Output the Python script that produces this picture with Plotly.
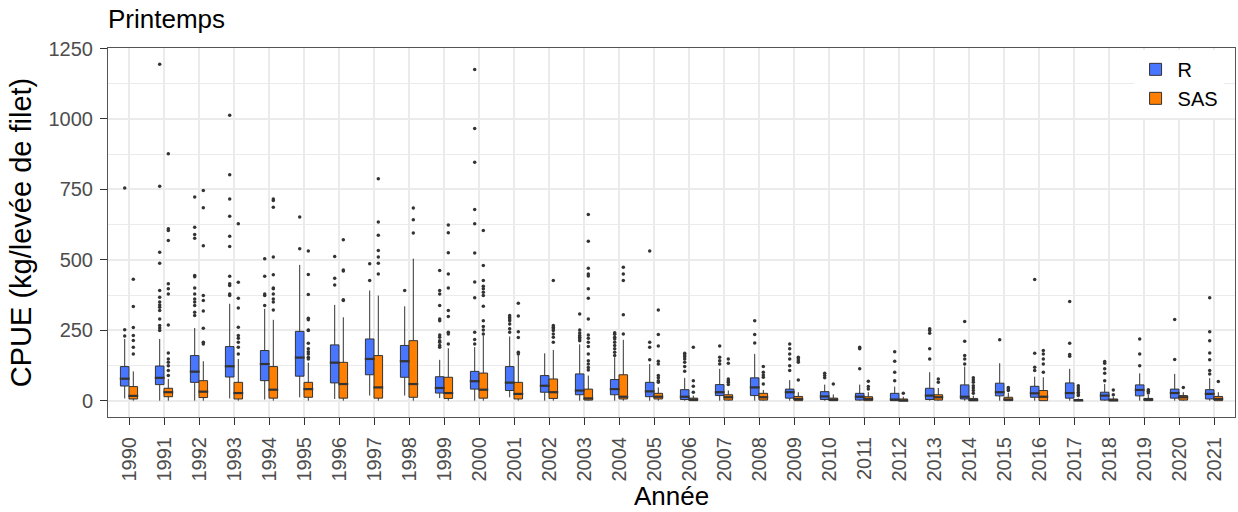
import plotly.graph_objects as go

years = list(range(1990, 2022))

# R series: box statistics
r_q1 = [52, 57, 65, 84, 71, 87, 63, 92, 83, 27, 41, 36, 30, 21, 21, 14, 4, 18, 18, 9, 4, 2, 0, 4, 6, 17, 12, 9, 2, 17, 9, 6]
r_med = [78, 81, 103, 122, 130, 153, 135, 148, 140, 45, 69, 64, 53, 36, 41, 33, 14, 30, 47, 30, 15, 14, 4, 18, 14, 30, 26, 27, 18, 38, 27, 24]
r_q3 = [121, 123, 160, 192, 178, 246, 198, 219, 196, 85, 104, 121, 89, 95, 75, 65, 39, 57, 81, 41, 32, 26, 26, 44, 56, 62, 51, 63, 30, 56, 41, 39]
r_lo = [8, 0, 0, 8, 4, 12, 6, 18, 18, 9, 0, 12, 0, 0, 0, 0, 0, 0, 0, 0, 0, 0, 0, 0, 0, 0, 0, 0, 0, 0, 0, 0]
r_hi = [219, 219, 258, 344, 326, 482, 340, 391, 335, 145, 190, 228, 168, 200, 154, 130, 81, 113, 166, 73, 57, 57, 50, 101, 121, 133, 85, 113, 59, 97, 95, 80]
r_out = [
    [252, 230, 755],
    [1194, 761, 527, 488, 391, 367, 350, 340, 332, 320, 290, 267, 258, 249],
    [723, 616, 590, 577, 444, 440, 400, 379, 361, 350, 338, 314, 302],
    [1013, 802, 716, 655, 584, 547, 442, 415, 409, 379, 373],
    [504, 442, 379, 373, 338],
    [652, 539],
    [512, 435, 411],
    [486, 427],
    [391],
    [462, 391, 379, 338, 290, 284, 233, 225, 213, 207, 196, 190],
    [1176, 966, 846, 679, 628, 524, 421, 365, 243, 217, 201],
    [302, 296, 290, 284, 272, 255, 243],
    [],
    [308, 251, 240, 231, 225, 219, 213],
    [241, 236, 225, 219, 207, 196, 184, 172, 160],
    [531, 207, 190, 145],
    [168, 162, 156, 148, 136, 121, 104],
    [194, 154, 142, 130],
    [284, 235, 205],
    [201, 184, 166, 148, 124, 107],
    [97, 89, 81],
    [190, 184, 113],
    [174, 140, 101, 71],
    [255, 249, 239, 184, 148],
    [281, 211, 160, 148, 130],
    [216],
    [430, 168, 119, 107],
    [352, 204, 164, 158],
    [139, 133, 113, 97, 71],
    [219, 166, 124],
    [288, 146],
    [365, 245, 213, 169, 145, 107, 95],
]

# SAS series: box statistics
s_q1 = [6, 14, 11, 6, 9, 12, 9, 9, 12, 8, 9, 6, 8, 2, 6, 6, 0, 2, 2, 0, 0, 0, 0, 2, 0, 0, 0, 0, 0, 0, 2, 0]
s_med = [17, 30, 32, 27, 39, 41, 59, 47, 59, 27, 39, 24, 30, 8, 14, 14, 4, 12, 12, 6, 4, 6, 0, 12, 2, 4, 14, 1, 1, 4, 12, 6]
s_q3 = [50, 44, 71, 65, 121, 65, 136, 160, 213, 83, 98, 65, 77, 41, 92, 26, 9, 21, 26, 15, 9, 14, 6, 21, 8, 12, 36, 4, 6, 8, 18, 15]
s_lo = [0] * 32
s_hi = [104, 77, 140, 148, 287, 135, 296, 373, 504, 186, 231, 160, 180, 89, 216, 47, 18, 36, 38, 30, 22, 30, 14, 45, 18, 28, 83, 8, 14, 20, 30, 30]
s_out = [
    [431, 334, 260, 231, 214, 190, 166],
    [877, 610, 604, 569, 415, 397, 379, 269, 169, 148, 136, 124, 107, 89],
    [746, 685, 550, 373, 356, 318, 257, 207, 201],
    [628, 420, 364, 329, 261, 231, 222, 207, 190, 166],
    [716, 711, 687, 510, 447, 400, 397, 379, 361, 350, 322],
    [531, 448, 377, 293, 287, 251, 249, 204, 184, 174, 166, 154, 148],
    [571, 464, 460, 358, 356],
    [788, 634, 587, 533, 510, 488, 450],
    [684, 642, 595],
    [624, 596, 525, 450, 400, 320, 299, 243, 237, 201],
    [604, 480, 427, 406, 397, 385, 373, 335, 284, 263, 251, 237],
    [346, 301, 245, 224, 172, 166],
    [427, 267, 261, 255, 249, 237, 225, 207],
    [661, 566, 470, 450, 443, 397, 364, 290, 233, 222, 207, 192, 166, 142, 130, 118, 109],
    [474, 450, 427, 305, 237],
    [322, 235, 194, 140, 130, 89, 81, 71, 65],
    [190, 71, 51, 30],
    [148, 133, 77, 71, 65, 57],
    [121, 101, 91, 83, 59],
    [154, 148, 142, 136, 73],
    [59],
    [69, 50, 41],
    [26],
    [77, 65],
    [81, 73, 65, 53, 45, 36, 26],
    [47, 41, 36],
    [178, 166, 148, 130, 101],
    [53, 45, 38, 30, 24, 18],
    [38, 21],
    [39, 33, 27],
    [47],
    [68],
]

y_ticks = [0, 250, 500, 750, 1000, 1250]
y_minor = [125, 375, 625, 875, 1125]

FONT = "Liberation Sans, Arial, Helvetica, sans-serif"
LINE = "#333333"
DODGE = 0.123
BOXW = 0.245

fig = go.Figure()

series = [
    ("R", "#4876FF", -DODGE, r_q1, r_med, r_q3, r_lo, r_hi, r_out),
    ("SAS", "#FF7F00", DODGE, s_q1, s_med, s_q3, s_lo, s_hi, s_out),
]

for name, color, off, q1, med, q3, lo, hi, outs in series:
    xs = [y + off for y in years]
    fig.add_trace(go.Box(
        name=name, x=xs, q1=q1, median=med, q3=q3,
        lowerfence=lo, upperfence=hi,
        width=BOXW, whiskerwidth=0,
        fillcolor=color, line=dict(color=LINE, width=1),
        boxpoints=False, hoverinfo="skip", showlegend=True,
    ))
    # thicker median line
    fig.add_trace(go.Scatter(
        x=xs, y=med, mode="markers", showlegend=False, hoverinfo="skip",
        marker=dict(symbol="line-ew", size=7, color=LINE,
                    line=dict(width=2.2, color=LINE)),
    ))
    ox, oy = [], []
    for yr, vals in zip(years, outs):
        for v in vals:
            ox.append(yr + off)
            oy.append(v)
    fig.add_trace(go.Scatter(
        x=ox, y=oy, mode="markers", showlegend=False, hoverinfo="skip",
        marker=dict(size=3.5, color=LINE),
    ))

axis_common = dict(
    showline=True, mirror=True, linecolor="#555555", linewidth=1,
    ticks="outside", ticklen=7, tickcolor=LINE, tickwidth=1,
    showgrid=True, gridcolor="#EBEBEB", gridwidth=1.8, zeroline=False,
    tickfont=dict(family=FONT, size=20, color="#4D4D4D"),
)

fig.update_layout(
    width=1238, height=512,
    margin=dict(l=108, r=3, t=48, b=95),
    paper_bgcolor="white", plot_bgcolor="white",
    font=dict(family=FONT, color="black"),
    title=dict(text="Printemps", x=0, xref="paper", xanchor="left",
               y=1 - 19 / 512, yref="container", yanchor="middle",
               font=dict(family=FONT, size=26, color="black")),
    xaxis=dict(
        **axis_common, range=[1989.4, 2021.6],
        tickmode="array", tickvals=years, ticktext=[str(y) for y in years],
        tickangle=-90, ticklabelstandoff=4,
        title=dict(text="Année", standoff=6, font=dict(family=FONT, size=26, color="black")),
    ),
    yaxis=dict(
        **axis_common, range=[-58, 1252],
        tickmode="array", tickvals=y_ticks, ticklabelstandoff=3,
        minor=dict(showgrid=True, gridcolor="#EBEBEB", gridwidth=0.9,
                   tickmode="array", tickvals=y_minor, ticks=""),
        title=dict(text="CPUE (kg/levée de filet)", standoff=8,
                   font=dict(family=FONT, size=29, color="black")),
    ),
    legend=dict(x=0.91, y=0.995, xanchor="left", yanchor="top",
                bgcolor="white", font=dict(family=FONT, size=20, color="black"),
                tracegroupgap=0, itemwidth=34),
    showlegend=True,
)

fig.write_html("out.html")
